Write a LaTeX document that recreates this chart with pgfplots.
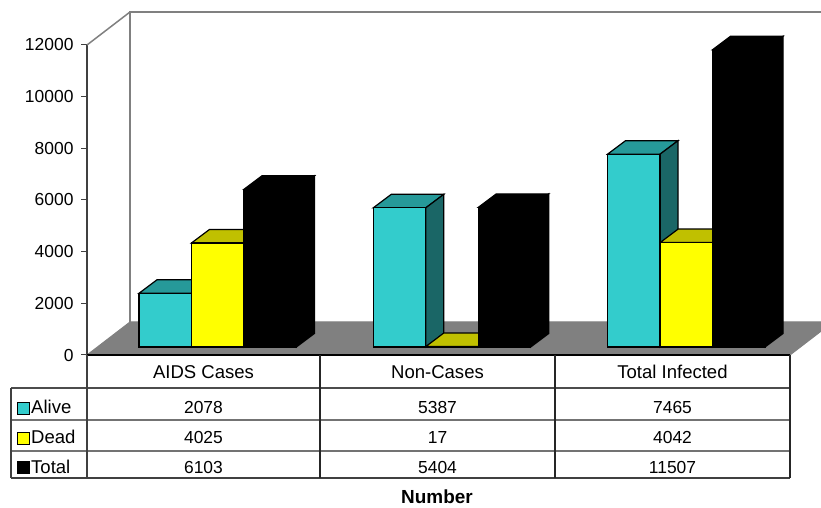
\documentclass[border=0pt]{standalone}
\usepackage{fontspec}
\setmainfont{Liberation Sans}
\usepackage{pgfplots}
\usepackage{pgfplotstable}
\pgfplotsset{compat=1.18}
\definecolor{cyanF}{RGB}{51,204,204}
\definecolor{cyanT}{RGB}{38,153,153}
\definecolor{cyanS}{RGB}{26,102,102}
\definecolor{yelF}{RGB}{255,255,0}
\definecolor{yelT}{RGB}{192,192,0}
\definecolor{yelS}{RGB}{128,128,0}
\definecolor{floorG}{RGB}{128,128,128}
\newcommand\tf{\fontsize{17.5}{20}\selectfont}
\newcommand\wf{\fontsize{18.6}{21}\selectfont}

\pgfplotstableread{
x alive dead total
0 2078 4025 6103
1 5387 17 5404
2 7465 4042 11507
}\datatable

% bar geometry (axis units)
\def\bw{0.224}
\def\ddx{0.0768}
\def\ddy{522.6}

\newcommand\barfaces[5]{%
  \pgfplotstablegetelem{#1}{#2}\of\datatable
  \pgfmathsetmacro\vT{\pgfplotsretval}%
  \pgfmathsetmacro\vTb{\pgfplotsretval+\ddy}%
  \pgfmathsetmacro\xL{#1+#3}%
  \pgfmathsetmacro\xR{#1+#3+\bw}%
  \pgfmathsetmacro\xLb{#1+#3+\ddx}%
  \pgfmathsetmacro\xRb{#1+#3+\bw+\ddx}%
  \edef\doplot{%
    \noexpand\addplot[fill=#4,draw=black,line width=1.2bp,yshift=8bp,forget plot] coordinates {(\xL,\vT) (\xLb,\vTb) (\xRb,\vTb) (\xR,\vT)} -- cycle;
    \noexpand\addplot[fill=#5,draw=black,line width=1.2bp,yshift=8bp,forget plot] coordinates {(\xR,0) (\xRb,\ddy) (\xRb,\vTb) (\xR,\vT)} -- cycle;
  }\doplot
}

\begin{document}
\begin{tikzpicture}
\path[use as bounding box] (0bp,0bp) rectangle (821bp,508bp);
\begin{axis}[
  at={(87bp,153bp)}, anchor=south west,
  scale only axis, width=703bp, height=310bp,
  xmin=-0.5, xmax=2.5, ymin=0, ymax=12000,
  enlargelimits=false, clip=false,
  axis x line=none, axis y line*=left,
  axis line style={black!75, line width=1.2bp},
  ytick={0,2000,...,12000},
  tick align=outside, major tick length=6bp,
  ytick style={black!75, line width=1bp},
  scaled y ticks=false,
  yticklabel style={font=\tf, xshift=-4bp, /pgf/number format/1000 sep={}, /pgf/number format/assume math mode=true},
]
% floor and back wall
\addplot[fill=floorG, draw=floorG, line width=1bp, forget plot] coordinates {(-0.5,0) (-0.3165,1277.4) (2.6835,1277.4) (2.5,0)} -- cycle;
\addplot[draw=floorG, line width=1.5bp, forget plot] coordinates {(-0.3165,1277.4) (-0.3165,13277.4) (2.6835,13277.4) (2.6835,1277.4)};
\addplot[draw=floorG, line width=1.5bp, forget plot] coordinates {(-0.5,12000) (-0.3165,13277.4)};
% top and side faces (painted left to right)
\barfaces{0}{alive}{-0.2784}{cyanT}{cyanS}
\barfaces{0}{dead}{-0.0544}{yelT}{yelS}
\barfaces{0}{total}{0.1696}{black}{black}
\barfaces{1}{alive}{-0.2784}{cyanT}{cyanS}
\barfaces{1}{dead}{-0.0544}{yelT}{yelS}
\barfaces{1}{total}{0.1696}{black}{black}
\barfaces{2}{alive}{-0.2784}{cyanT}{cyanS}
\barfaces{2}{dead}{-0.0544}{yelT}{yelS}
\barfaces{2}{total}{0.1696}{black}{black}
% front faces
\addplot[ybar, bar width=\bw, bar shift=-0.1664, fill=cyanF, draw=black, line width=1.2bp, yshift=8bp] table[x=x,y=alive]{\datatable};
\addplot[ybar, bar width=\bw, bar shift=0.0576, fill=yelF, draw=black, line width=1.2bp, yshift=8bp] table[x=x,y=dead]{\datatable};
\addplot[ybar, bar width=\bw, bar shift=0.2816, fill=black, draw=black, line width=1.2bp, yshift=8bp] table[x=x,y=total]{\datatable};
\end{axis}
% data table
\draw[black, line width=1.5bp] (87bp,153bp) -- (790bp,153bp);
\draw[black!70, line width=1.2bp] (11bp,120bp) -- (790bp,120bp);
\draw[black!55, line width=1.2bp] (11bp,88bp) -- (790bp,88bp);
\draw[black!55, line width=1.2bp] (11bp,57bp) -- (790bp,57bp);
\draw[black!75, line width=1.2bp] (11bp,30bp) -- (790bp,30bp);
\draw[black!75, line width=1.2bp] (11bp,30bp) -- (11bp,120bp);
\draw[black!75, line width=1.2bp] (87bp,30bp) -- (87bp,153bp);
\draw[black!85, line width=1.2bp] (320bp,30bp) -- (320bp,153bp);
\draw[black!85, line width=1.2bp] (555bp,30bp) -- (555bp,153bp);
\draw[black!85, line width=1.2bp] (790bp,30bp) -- (790bp,153bp);
\node[anchor=base, font=\wf] at (203.5bp,129bp) {AIDS Cases};
\node[anchor=base, font=\wf] at (437.5bp,129bp) {Non-Cases};
\node[anchor=base, font=\wf] at (672.5bp,129bp) {Total Infected};
\draw[fill=cyanF, draw=black, line width=1bp] (17bp,93bp) rectangle (29bp,105bp);
\draw[fill=yelF, draw=black, line width=1bp] (17bp,63bp) rectangle (29bp,75bp);
\draw[fill=black, draw=black, line width=1bp] (17bp,34bp) rectangle (29bp,46bp);
\node[anchor=base west, font=\wf, inner sep=0pt] at (31bp,94bp) {Alive};
\node[anchor=base west, font=\wf, inner sep=0pt] at (31bp,64bp) {Dead};
\node[anchor=base west, font=\wf, inner sep=0pt] at (31bp,35bp) {Total};
\node[anchor=base, font=\tf] at (203.5bp,94bp) {2078};
\node[anchor=base, font=\tf] at (437.5bp,94bp) {5387};
\node[anchor=base, font=\tf] at (672.5bp,94bp) {7465};
\node[anchor=base, font=\tf] at (203.5bp,64bp) {4025};
\node[anchor=base, font=\tf] at (437.5bp,64bp) {17};
\node[anchor=base, font=\tf] at (672.5bp,64bp) {4042};
\node[anchor=base, font=\tf] at (203.5bp,35bp) {6103};
\node[anchor=base, font=\tf] at (437.5bp,35bp) {5404};
\node[anchor=base, font=\tf] at (672.5bp,35bp) {11507};
\node[anchor=base, font=\fontsize{19}{21}\selectfont\bfseries] at (437bp,5bp) {Number};
\end{tikzpicture}
\end{document}
